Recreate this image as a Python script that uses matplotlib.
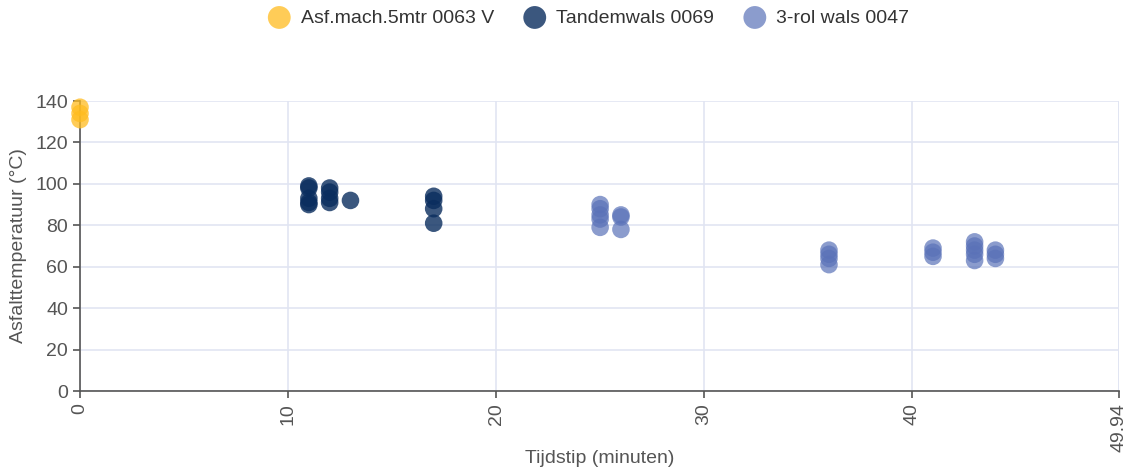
import matplotlib
matplotlib.use('Agg')
import matplotlib.pyplot as plt

plt.rcParams['font.family'] = ['Liberation Sans', 'DejaVu Sans']

# Data
asf_x = [0, 0, 0]
asf_y = [137, 134, 131]

tandem_x = [11, 11, 11, 11, 11, 12, 12, 12, 12, 13, 17, 17, 17, 17]
tandem_y = [99, 98, 93, 91, 90, 98, 96, 93, 91, 92, 94, 92, 88, 81]

rol_x = [25, 25, 25, 25, 25, 26, 26, 26, 36, 36, 36, 36, 41, 41, 41,
         43, 43, 43, 43, 43, 44, 44, 44]
rol_y = [90, 88, 85, 83, 79, 85, 84, 78, 68, 66, 64, 61, 69, 67, 65,
         72, 70, 68, 66, 63, 68, 66, 64]

x_ticks = [0, 10, 20, 30, 40, 49.94]
x_ticklabels = ['0', '10', '20', '30', '40', '49.94']
y_ticks = [0, 20, 40, 60, 80, 100, 120, 140]

fig = plt.figure(figsize=(11.35, 4.74), dpi=100)
ax = fig.add_axes([80 / 1135, 1 - 391 / 474, (1119 - 80) / 1135, (391 - 101) / 474])

ms = 160
ax.scatter(asf_x, asf_y, s=ms, color='#FFBC1F', alpha=0.75, edgecolors='none',
           label='Asf.mach.5mtr 0063 V', clip_on=False, zorder=3)
ax.scatter(tandem_x, tandem_y, s=ms, color='#0A2D5E', alpha=0.8, edgecolors='none',
           label='Tandemwals 0069', clip_on=False, zorder=3)
ax.scatter(rol_x, rol_y, s=ms, color='#5A72B8', alpha=0.7, edgecolors='none',
           label='3-rol wals 0047', clip_on=False, zorder=3)

ax.set_xlim(0, 49.94)
ax.set_ylim(0, 140)
ax.set_xticks(x_ticks)
ax.set_xticklabels(x_ticklabels, rotation=90)
ax.set_yticks(y_ticks)
ax.grid(True, color='#E1E5F2', linewidth=1.2)
ax.set_axisbelow(True)

for side in ['top', 'right']:
    ax.spines[side].set_visible(False)
for side in ['left', 'bottom']:
    ax.spines[side].set_color('#555555')
    ax.spines[side].set_linewidth(1.2)
ax.axvline(49.94, color='#E1E5F2', linewidth=1.2, zorder=0)

ax.tick_params(colors='#555555', labelcolor='#555555', labelsize=14, length=5, width=1.2)
ax.set_xlabel('Tijdstip (minuten)', fontsize=14, color='#555555')
ax.xaxis.set_label_coords(0.5, -0.205)
ax.set_ylabel('Asfalttemperatuur (°C)', fontsize=14, color='#555555', labelpad=6)

leg = fig.legend(loc='upper center', bbox_to_anchor=(0.515, 1.018), ncol=3, frameon=False,
                 fontsize=14, handletextpad=0.1, columnspacing=1.1, markerscale=1.3)
for t in leg.get_texts():
    t.set_color('#333333')

plt.savefig('out.png')
